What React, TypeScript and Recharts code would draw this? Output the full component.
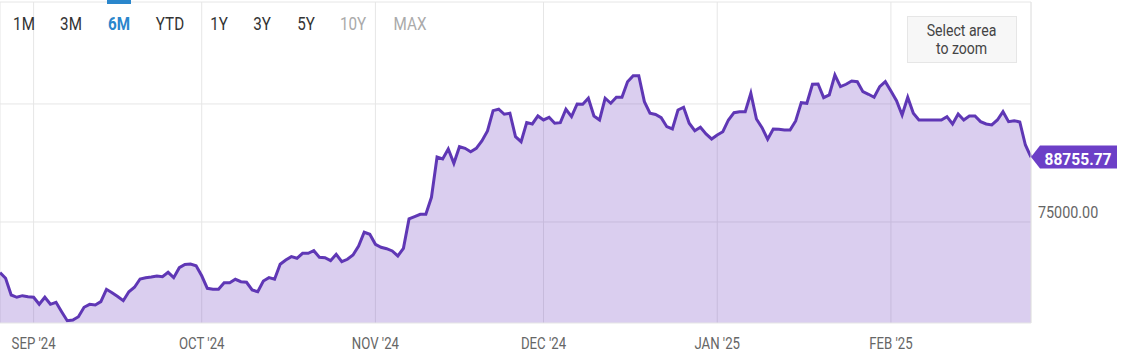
import React from "react";
import {
  AreaChart,
  Area,
  XAxis,
  YAxis,
  CartesianGrid,
  ReferenceDot,
  ReferenceLine,
} from "recharts";

// daily closes, one per day starting 2024-08-26
const START_DATE = "2024-08-26";
const prices = [
  64260, 63070, 59530, 59050, 59390, 59170, 59050, 57560, 59050, 57560,
  57990, 56000, 54090, 54240, 54940, 56930, 57560, 57420, 58120, 60740,
  60020, 59220, 58330, 60230, 61170, 62920, 63200, 63350, 63560, 63410,
  64340, 63200, 65320, 66000, 66100, 65740, 63600, 60950, 60740, 60740,
  62140, 62140, 62860, 62350, 62230, 60590, 60230, 62500, 63200, 62860,
  66040, 66950, 67650, 67310, 68370, 68370, 68920, 67520, 67440, 66800,
  68160, 66590, 67100, 68010, 69920, 72820, 72390, 70280, 69640, 69340,
  68860, 67800, 69430, 75640, 76120, 76630, 76630, 80230, 88770, 88350,
  90470, 87440, 90950, 90610, 89890, 90610, 92160, 94280, 98580, 98880,
  97820, 98030, 93070, 92010, 96040, 95760, 97460, 96610, 97180, 95910,
  96040, 98880, 97310, 100000, 99940, 101210, 97460, 96610, 101210, 100150,
  101420, 101420, 104720, 106000, 106000, 100490, 98030, 97780, 97100, 95190,
  94700, 98730, 99300, 95910, 94340, 95060, 93640, 92580, 93430, 94130,
  96610, 98160, 98370, 98370, 102270, 96820, 94980, 92520, 94700, 94640,
  94490, 94490, 96400, 100280, 100150, 104170, 104240, 101330, 101910, 106140,
  103670, 104170, 104870, 104720, 102610, 102050, 101420, 103670, 104720, 102750,
  100700, 97670, 101420, 98030, 96610, 96610, 96610, 96610, 96610, 97310,
  95760, 97880, 96610, 97460, 97460, 96250, 95760, 95550, 96610, 98370,
  96250, 96460, 96190, 91310, 88755.77,
];
const lastPrice = 88755.77;

// day offsets from START_DATE for the first of each month
const monthTicks = [6, 36, 67, 97, 128, 159];
const monthLabels = ["SEP '24", "OCT '24", "NOV '24", "DEC '24", "JAN '25", "FEB '25"];
const priceTicks = [75000];
const gridPrices = [75000, 100000];
const rangeButtons = ["1M", "3M", "6M", "YTD", "1Y", "3Y", "5Y", "10Y", "MAX"];
const activeRange = "6M";
const disabledRanges = ["10Y", "MAX"];

const Y_MIN = 53600;
const Y_MAX = 121600;
const LAST_DAY = prices.length - 1;

const data = prices.map((price, day) => ({ day, price }));

const LINE = "#5f37b5";
const TAG = "#6c3fc7";
const GRID = "#e6e6e6";
const buttonCenters = [24, 71, 119, 170, 219, 262, 306, 353, 410];

function MonthTick(props: any) {
  const { x, y, payload } = props;
  const idx = monthTicks.indexOf(payload.value);
  return (
    <g transform={`translate(${x},${y + 17.5})`}>
      <text textAnchor="middle" fill="#666" fontSize={16.5} transform="scale(0.8,1)">
        {monthLabels[idx]}
      </text>
    </g>
  );
}

function PriceTick(props: any) {
  const { x, y, payload } = props;
  return (
    <g transform={`translate(${x - 1},${y - 3.7})`}>
      <text textAnchor="start" fill="#666" fontSize={16.5} transform="scale(0.87,1)">
        {payload.value.toFixed(2)}
      </text>
    </g>
  );
}

function PriceTag(props: any) {
  const { cx, cy } = props;
  return (
    <g>
      <path
        d={`M${cx},${cy} L${cx + 9},${cy - 11.5} H${cx + 86} V${cy + 11.5} H${cx + 9} Z`}
        fill={TAG}
      />
      <text
        x={cx + 47}
        y={cy + 8}
        textAnchor="middle"
        fill="#fff"
        fontWeight="bold"
        fontSize={16.5}
        textLength={67}
        lengthAdjust="spacingAndGlyphs"
      >
        {lastPrice.toFixed(2)}
      </text>
    </g>
  );
}

export default function App() {
  return (
    <div style={{ position: "relative", width: 1140, height: 362, fontFamily: "Roboto, sans-serif" }}>
      <style>{"body{margin:0}"}</style>
      <AreaChart
        width={1140}
        height={362}
        data={data}
        margin={{ top: 2, right: 0, bottom: 0, left: 0 }}
        style={{ fontFamily: "Roboto, sans-serif" }}
      >
        <CartesianGrid stroke={GRID} horizontalValues={gridPrices} />
        <XAxis
          dataKey="day"
          type="number"
          domain={[0, LAST_DAY]}
          ticks={monthTicks}
          tick={<MonthTick />}
          tickLine={false}
          axisLine={{ stroke: GRID }}
          height={39}
          interval={0}
        />
        <YAxis
          orientation="right"
          type="number"
          domain={[Y_MIN, Y_MAX]}
          ticks={priceTicks}
          tick={<PriceTick />}
          tickLine={false}
          axisLine={false}
          width={109}
        />
        <ReferenceLine y={Y_MAX} stroke={GRID} />
        <ReferenceLine x={LAST_DAY} stroke={GRID} />
        <Area
          type="linear"
          dataKey="price"
          stroke={LINE}
          strokeWidth={3}
          fill="#6a3dc1"
          fillOpacity={0.25}
          dot={false}
          activeDot={false}
          isAnimationActive={false}
        />
        <ReferenceDot x={LAST_DAY} y={lastPrice} r={0} shape={<PriceTag />} />
      </AreaChart>

      <div style={{ position: "absolute", left: 107, top: 0, width: 24, height: 4, background: "#2a86cc" }} />
      {rangeButtons.map((label, i) => {
        const active = label === activeRange;
        const disabled = disabledRanges.includes(label);
        return (
          <div
            key={label}
            style={{
              position: "absolute",
              left: buttonCenters[i] - 30,
              top: 12,
              width: 60,
              textAlign: "center",
              fontSize: 19,
              lineHeight: "24px",
              fontWeight: active ? 700 : 400,
              color: active ? "#2a86cc" : disabled ? "#aaa" : "#333",
              transform: "scaleX(0.8)",
            }}
          >
            {label}
          </div>
        );
      })}

      <div
        style={{
          position: "absolute",
          left: 907,
          top: 16,
          width: 108,
          height: 45,
          background: "#f7f7f7",
          border: "1px solid #e6e6e6",
          color: "#444",
          fontSize: 16,
          lineHeight: "18px",
          textAlign: "center",
          display: "flex",
          alignItems: "center",
          justifyContent: "center",
        }}
      >
        <div style={{ transform: "scaleX(0.88)" }}>
          Select area
          <br />
          to zoom
        </div>
      </div>
    </div>
  );
}
